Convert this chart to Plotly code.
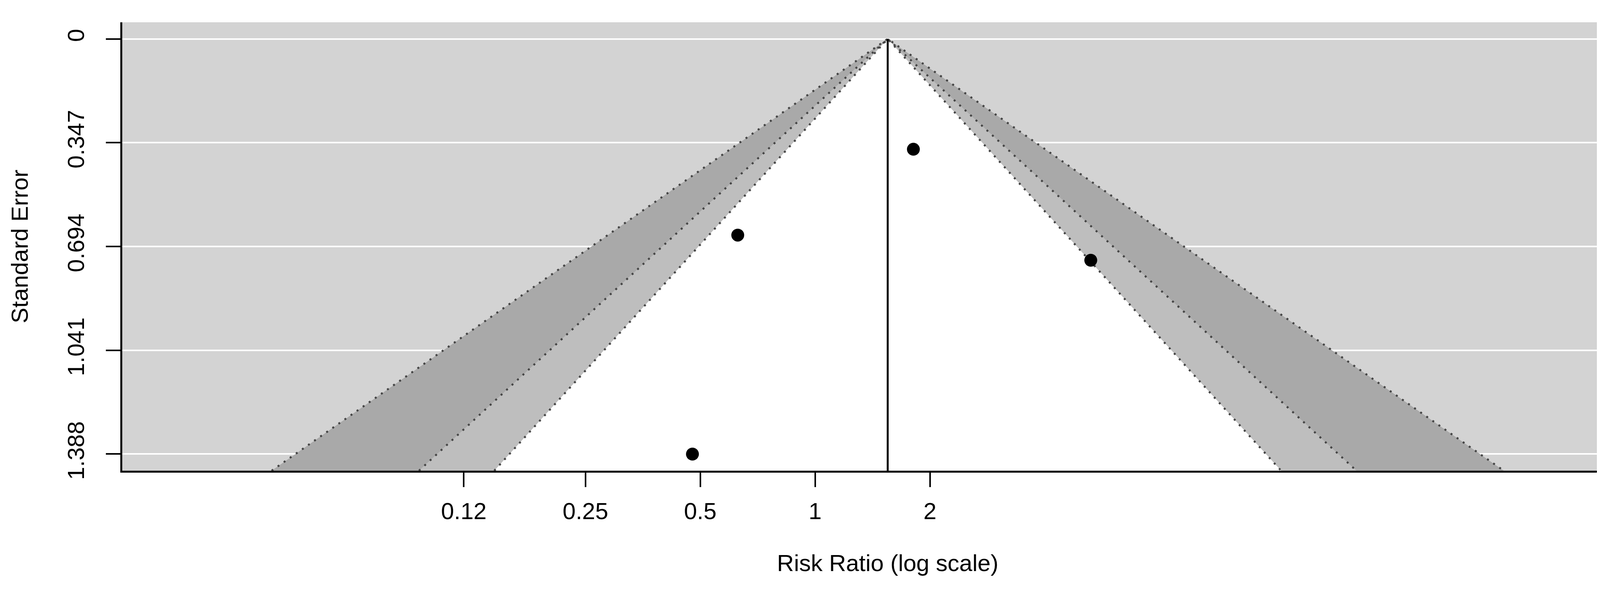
import math
import plotly.graph_objects as go

# ---- data ----
study_rr = [1.81, 0.627, 5.28, 0.477]          # risk ratios of the studies
study_se = [0.369, 0.656, 0.740, 1.388]        # standard errors
pooled_rr = 1.55                               # summary estimate (funnel apex)
contour_z = [2.576, 1.960, 1.645]              # 99%, 95%, 90% contours
contour_fill = ["#A9A9A9", "#BEBEBE", "#FFFFFF"]

x_tickvals = [0.12, 0.25, 0.5, 1, 2]
x_ticktext = ["0.12", "0.25", "0.5", "1", "2"]
y_tickvals = [0, 0.347, 0.694, 1.041, 1.388]
y_ticktext = ["0", "0.347", "0.694", "1.041", "1.388"]

# ---- layout helpers ----
se_max = max(y_tickvals)
pad = 0.04 * se_max
y_range = [se_max + pad, -pad]
y_bottom = y_range[0]
c = math.log(pooled_rr)
half = 4.62
x_range = [(c - half) / math.log(10), (c + half) / math.log(10)]

fig = go.Figure()

# filled contour regions (outermost first)
for z, col in zip(contour_z, contour_fill):
    xs = [math.exp(c - z * y_bottom), pooled_rr, math.exp(c + z * y_bottom)]
    ys = [y_bottom, 0, y_bottom]
    fig.add_trace(go.Scatter(x=xs, y=ys, fill="toself", fillcolor=col,
                             mode="lines", line=dict(width=0), hoverinfo="skip"))

# dotted contour edges
for z in contour_z:
    xs = [math.exp(c - z * y_bottom), pooled_rr, math.exp(c + z * y_bottom)]
    ys = [y_bottom, 0, y_bottom]
    fig.add_trace(go.Scatter(x=xs, y=ys, mode="lines",
                             line=dict(color="#444444", width=5, dash="5px,14px"),
                             hoverinfo="skip"))

# reference line at the pooled estimate
fig.add_trace(go.Scatter(x=[pooled_rr, pooled_rr], y=[0, y_bottom], mode="lines",
                         line=dict(color="black", width=5), hoverinfo="skip"))

# studies
fig.add_trace(go.Scatter(x=study_rr, y=study_se, mode="markers",
                         marker=dict(color="black", size=33), cliponaxis=False))

font_family = "Liberation Sans, Arial, sans-serif"
fig.update_layout(
    width=4266, height=1513,
    margin=dict(l=305, r=42, t=49, b=316),
    paper_bgcolor="white",
    plot_bgcolor="#D3D3D3",
    showlegend=False,
    font=dict(family=font_family, size=60, color="black"),
)
fig.update_xaxes(
    type="log", range=x_range, tickvals=x_tickvals, ticktext=x_ticktext,
    showgrid=False, zeroline=False,
    showline=True, linecolor="black", linewidth=5,
    ticks="outside", ticklen=37, tickwidth=4, tickcolor="black",
    tickfont=dict(size=60), ticklabelstandoff=10,
    title=dict(text="Risk Ratio (log scale)", font=dict(size=60), standoff=80),
    automargin=False,
)
fig.update_yaxes(
    range=y_range, tickvals=y_tickvals, ticktext=y_ticktext,
    showgrid=True, gridcolor="white", gridwidth=4, zeroline=False,
    showline=True, linecolor="black", linewidth=5,
    ticks="outside", ticklen=37, tickwidth=4, tickcolor="black",
    tickangle=-90, tickfont=dict(size=60), ticklabelstandoff=32,
    title=dict(text="Standard Error", font=dict(size=60), standoff=72),
    automargin=False,
)

fig.write_html("out.html")
